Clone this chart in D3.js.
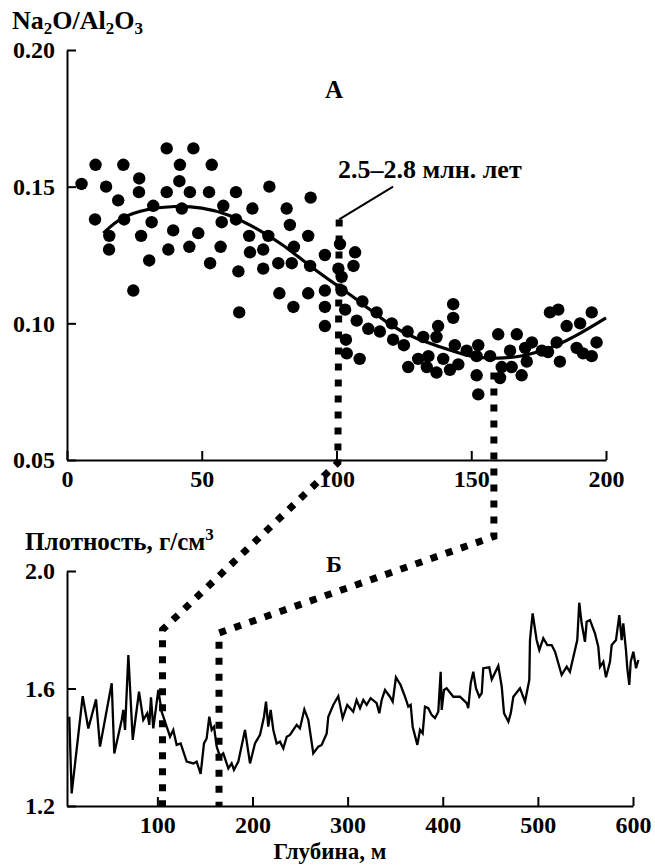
<!DOCTYPE html>
<html>
<head>
<meta charset="utf-8">
<script src="https://cdn.jsdelivr.net/npm/d3@7"></script>
<style>
    body { margin: 0; background: #fff; }
    text { font-family: "Liberation Serif", "Times New Roman", serif; font-weight: bold; fill: #000; }
</style>
</head>
<body>
<svg id="chart" width="655" height="867"></svg>
<script>
// Na2O/Al2O3 vs depth (m), panel A
var ratioPoints = [
    [5.4, 0.151], [10.6, 0.158], [10.4, 0.138], [14.5, 0.150], [15.7, 0.132], [15.6, 0.127],
    [19.0, 0.145], [20.9, 0.158], [21.2, 0.138], [24.6, 0.112], [26.8, 0.153], [26.7, 0.148],
    [27.5, 0.132], [30.5, 0.123], [31.4, 0.137], [32.0, 0.143], [37.0, 0.164], [37.0, 0.148],
    [37.6, 0.127], [39.4, 0.134], [41.9, 0.158], [41.7, 0.152], [42.6, 0.142], [45.6, 0.148],
    [45.4, 0.128], [46.9, 0.164], [48.7, 0.133], [52.7, 0.148], [53.1, 0.122], [53.7, 0.158],
    [57.0, 0.128], [57.4, 0.137], [58.0, 0.143], [62.7, 0.148], [62.7, 0.138], [63.6, 0.119],
    [63.9, 0.104], [67.6, 0.132], [67.9, 0.126], [68.8, 0.142], [72.8, 0.127], [72.8, 0.120],
    [74.7, 0.132], [75.1, 0.150], [78.4, 0.122], [78.8, 0.111], [81.5, 0.142], [82.7, 0.136],
    [83.4, 0.122], [84.2, 0.128], [84.0, 0.106], [89.5, 0.132], [89.5, 0.111], [90.2, 0.121],
    [90.4, 0.146], [95.7, 0.125], [95.7, 0.112], [95.7, 0.106], [95.7, 0.099],
    [100.7, 0.120], [101.3, 0.129], [101.9, 0.112], [101.9, 0.117], [103.2, 0.105], [103.5, 0.094],
    [103.8, 0.089], [106.3, 0.121], [106.9, 0.126], [107.5, 0.101], [108.6, 0.087], [109.6, 0.108],
    [111.8, 0.098], [114.9, 0.104], [116.1, 0.097], [120.5, 0.100], [121.0, 0.094], [125.0, 0.092],
    [126.4, 0.097], [126.6, 0.084], [130.3, 0.087], [132.2, 0.095], [133.5, 0.084], [134.1, 0.088],
    [137.1, 0.082], [137.1, 0.095], [137.7, 0.099], [139.6, 0.087], [142.1, 0.083], [143.3, 0.107],
    [143.3, 0.102], [143.9, 0.092], [145.2, 0.085], [148.3, 0.090], [152.0, 0.081], [152.0, 0.088],
    [152.6, 0.092], [152.6, 0.074], [157.0, 0.088],
    [160.0, 0.096], [161.3, 0.084], [160.7, 0.080], [164.4, 0.090], [165.0, 0.084], [166.9, 0.096],
    [168.7, 0.081], [170.0, 0.091], [170.6, 0.086], [172.5, 0.093], [176.2, 0.090], [178.5, 0.0895],
    [179.2, 0.104], [182.3, 0.105], [181.7, 0.093], [182.9, 0.086], [185.4, 0.099], [189.1, 0.091],
    [190.4, 0.100], [191.5, 0.089], [194.7, 0.104], [194.7, 0.088], [196.5, 0.093]
];

// smooth trend line
var trendDepth = [13.5, 20, 30, 40, 50, 60, 70, 80, 90, 100, 110, 120, 130, 140, 150, 160, 170, 180, 190, 200];
var trendValue = [0.133, 0.139, 0.142, 0.143, 0.1425, 0.140, 0.135, 0.129, 0.121, 0.114, 0.107, 0.099, 0.094, 0.091, 0.0875, 0.087, 0.088, 0.091, 0.096, 0.102];

// density (g/cm3) vs depth (m), panel Б
var densityPoints = [
    [7.4, 1.504], [9.9, 1.243], [21.5, 1.574], [27.4, 1.464], [35.5, 1.563], [39.7, 1.402],
    [52.0, 1.618], [54.7, 1.379], [62.5, 1.493], [64.2, 1.527], [66.0, 1.459], [69.5, 1.714],
    [74.1, 1.425], [80.7, 1.589], [85.2, 1.493], [89.4, 1.516], [91.5, 1.476], [93.3, 1.570],
    [95.7, 1.464], [101.0, 1.595], [104.5, 1.521], [109.8, 1.470], [113.3, 1.436], [116.7, 1.459],
    [120.3, 1.408], [124.5, 1.413], [130.8, 1.351], [137.8, 1.345], [141.3, 1.351], [145.5, 1.309],
    [149.0, 1.413], [151.8, 1.430], [154.6, 1.504], [157.1, 1.459], [159.5, 1.470], [162.4, 1.402],
    [165.8, 1.368], [169.3, 1.379], [174.6, 1.328], [178.1, 1.345], [180.5, 1.323], [185.1, 1.351],
    [192.1, 1.459], [197.4, 1.345], [202.6, 1.413], [207.9, 1.442], [212.1, 1.504], [214.2, 1.555],
    [216.6, 1.470], [219.1, 1.527], [221.9, 1.459], [225.4, 1.413], [228.9, 1.419], [232.4, 1.396],
    [236.0, 1.436], [239.4, 1.442], [242.9, 1.459], [246.5, 1.476], [249.9, 1.464], [254.5, 1.529],
    [258.7, 1.493], [263.9, 1.379], [269.2, 1.402], [272.7, 1.408], [278.0, 1.447], [279.7, 1.504],
    [284.9, 1.544], [290.2, 1.574], [294.8, 1.499], [299.6, 1.544], [305.9, 1.521], [309.4, 1.561],
    [313.0, 1.533], [316.5, 1.561], [320.0, 1.544], [324.2, 1.567], [330.5, 1.550], [333.3, 1.516],
    [335.8, 1.561], [339.3, 1.595], [344.5, 1.572], [347.4, 1.555], [350.8, 1.638], [355.7, 1.612],
    [360.3, 1.572], [363.8, 1.538], [366.3, 1.544], [368.4, 1.470], [373.3, 1.408], [376.1, 1.459],
    [378.9, 1.447], [381.3, 1.538], [384.8, 1.533], [388.3, 1.510], [391.8, 1.499], [395.3, 1.521],
    [397.8, 1.657], [398.9, 1.527], [401.3, 1.595], [404.1, 1.601], [411.1, 1.572], [418.1, 1.572],
    [425.2, 1.550], [426.8, 1.533], [429.4, 1.618], [432.1, 1.657], [434.9, 1.601], [438.4, 1.572],
    [441.0, 1.584], [442.6, 1.669], [448.9, 1.672], [451.5, 1.631], [458.4, 1.677], [462.0, 1.606],
    [464.4, 1.516], [469.0, 1.487], [471.5, 1.516], [474.2, 1.572], [481.2, 1.601], [486.5, 1.555],
    [491.0, 1.629], [491.7, 1.765], [494.5, 1.856], [498.7, 1.765], [501.5, 1.731], [505.7, 1.771],
    [509.9, 1.748], [514.5, 1.748], [518.0, 1.725], [521.5, 1.686], [525.0, 1.646], [530.3, 1.674],
    [533.7, 1.657], [539.0, 1.731], [541.4, 1.765], [543.5, 1.892], [546.0, 1.822], [549.5, 1.759],
    [551.3, 1.827], [554.8, 1.833], [560.0, 1.788], [563.5, 1.742], [565.3, 1.674], [568.8, 1.691],
    [571.6, 1.638], [575.8, 1.691], [577.6, 1.748], [582.1, 1.765], [585.6, 1.850], [588.1, 1.765],
    [589.8, 1.822], [592.6, 1.731], [594.0, 1.669], [596.1, 1.612], [597.6, 1.691], [600.4, 1.725],
    [603.2, 1.669], [605.6, 1.697]
];

var ratioTicks = [0.05, 0.10, 0.15, 0.20];
var depthTicksA = [0, 50, 100, 150, 200];
var densityTicks = [1.2, 1.6, 2.0];
var depthTicksB = [100, 200, 300, 400, 500, 600];

// dotted connectors: upper part in panel A units, lower part in panel Б units
var connectorTop = [
    [[101, 0.138], [100.5, 0.049]],
    [[158.4, 0.082], [158.4, 0.022]]
];
var connectorBottom = [
    [[105.4, 1.80], [105.4, 1.2]],
    [[164.8, 1.789], [164.8, 1.2]]
];

var svg = d3.select("#chart");

var xTop = d3.scaleLinear().domain([0, 200]).range([67, 606]);
var yTop = d3.scaleLinear().domain([0.05, 0.20]).range([460, 50]);
var xBot = d3.scaleLinear().domain([5, 600]).range([67, 633]);
var yBot = d3.scaleLinear().domain([1.2, 2.0]).range([806, 571]);

function styleAxis(g, size) {
    g.select(".domain").attr("stroke", "#000").attr("stroke-width", 2);
    g.selectAll(".tick line").attr("stroke", "#000").attr("stroke-width", 2);
    g.selectAll(".tick text").attr("font-size", size).attr("fill", "#000");
}

// ---- panel A ----
svg.append("g")
    .attr("transform", "translate(0," + yTop(0.05) + ")")
    .call(d3.axisBottom(xTop).tickValues(depthTicksA).tickSizeInner(-9).tickSizeOuter(0).tickPadding(10))
    .call(styleAxis, 24);

svg.append("g")
    .attr("transform", "translate(" + xTop(0) + ",0)")
    .call(d3.axisLeft(yTop).tickValues(ratioTicks).tickFormat(d3.format(".2f")).tickSizeInner(-9).tickSizeOuter(0).tickPadding(12))
    .call(styleAxis, 24);

svg.append("g")
    .selectAll("circle")
    .data(ratioPoints).enter().append("circle")
    .attr("cx", function (d) { return xTop(d[0]); })
    .attr("cy", function (d) { return yTop(d[1]); })
    .attr("r", 6.2)
    .attr("fill", "#000");

var trendLine = d3.line()
    .x(function (d, i) { return xTop(trendDepth[i]); })
    .y(function (d, i) { return yTop(trendValue[i]); })
    .curve(d3.curveBasis);

svg.append("path")
    .attr("d", trendLine(trendDepth))
    .attr("fill", "none")
    .attr("stroke", "#000")
    .attr("stroke-width", 3.2);

// ---- panel Б ----
svg.append("g")
    .attr("transform", "translate(0," + yBot(1.2) + ")")
    .call(d3.axisBottom(xBot).tickValues(depthTicksB).tickFormat(d3.format("d")).tickSizeInner(-9).tickSizeOuter(0).tickPadding(10))
    .call(styleAxis, 24);

svg.append("g")
    .attr("transform", "translate(" + xBot(5) + ",0)")
    .call(d3.axisLeft(yBot).tickValues(densityTicks).tickFormat(d3.format(".1f")).tickSizeInner(-9).tickSizeOuter(0).tickPadding(12))
    .call(styleAxis, 24);

var densityLine = d3.line()
    .x(function (d) { return xBot(d[0]); })
    .y(function (d) { return yBot(d[1]); });

svg.append("path")
    .attr("d", densityLine(densityPoints))
    .attr("fill", "none")
    .attr("stroke", "#000")
    .attr("stroke-width", 2.3)
    .attr("stroke-linejoin", "miter");

// ---- connectors between the panels ----
connectorTop.forEach(function (top, i) {
    var pts = top.map(function (p) { return [xTop(p[0]), yTop(p[1])]; })
        .concat(connectorBottom[i].map(function (p) { return [xBot(p[0]), yBot(p[1])]; }));
    svg.append("path")
        .attr("d", d3.line()(pts))
        .attr("fill", "none")
        .attr("stroke", "#000")
        .attr("stroke-width", 7)
        .attr("stroke-dasharray", "7 9");
});

// leader from the age label
svg.append("line")
    .attr("x1", xTop(121)).attr("y1", yTop(0.150))
    .attr("x2", xTop(101)).attr("y2", yTop(0.138))
    .attr("stroke", "#000").attr("stroke-width", 2);

// ---- texts ----
var title = svg.append("text").attr("x", 12).attr("y", 29).attr("font-size", 26);
title.append("tspan").text("Na");
title.append("tspan").attr("font-size", 17).attr("dy", 5).text("2");
title.append("tspan").attr("dy", -5).text("O/Al");
title.append("tspan").attr("font-size", 17).attr("dy", 5).text("2");
title.append("tspan").attr("dy", -5).text("O");
title.append("tspan").attr("font-size", 17).attr("dy", 5).text("3");

svg.append("text").attr("x", 334).attr("y", 98).attr("text-anchor", "middle")
    .attr("font-size", 25).text("А");

svg.append("text").attr("x", 338).attr("y", 178).attr("font-size", 26)
    .text("2.5–2.8 млн. лет");

var dens = svg.append("text").attr("x", 25).attr("y", 550).attr("font-size", 25);
dens.append("tspan").text("Плотность, г/см");
dens.append("tspan").attr("font-size", 17).attr("dy", -10).text("3");

svg.append("text").attr("x", 334).attr("y", 572).attr("text-anchor", "middle")
    .attr("font-size", 24).text("Б");

svg.append("text").attr("x", 330).attr("y", 859).attr("text-anchor", "middle")
    .attr("font-size", 23).text("Глубина, м");
</script>
</body>
</html>
